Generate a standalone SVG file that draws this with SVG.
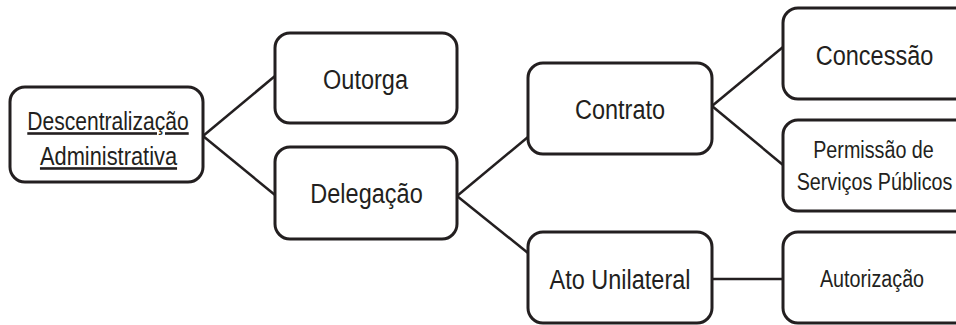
<svg xmlns="http://www.w3.org/2000/svg" width="956" height="325" viewBox="0 0 956 325">
<style>
.box{fill:#fff;stroke:#231f20;stroke-width:3}
.ln{stroke:#231f20;stroke-width:2.5;fill:none}
text{font-family:"Liberation Sans",Arial,sans-serif;fill:#231f20;text-anchor:middle}
.big{font-size:28px}
.mid{font-size:26px}
.sm{font-size:23.5px}
</style>
<rect width="956" height="325" fill="#fff"/>
<g id="connectors">
<line class="ln" x1="203" y1="136" x2="275" y2="76"/>
<line class="ln" x1="203" y1="136" x2="275" y2="195"/>
<line class="ln" x1="457" y1="196" x2="528" y2="137"/>
<line class="ln" x1="457" y1="196" x2="528" y2="253"/>
<line class="ln" x1="712" y1="106" x2="783" y2="47"/>
<line class="ln" x1="712" y1="106" x2="783" y2="165"/>
<line class="ln" x1="712" y1="279" x2="783" y2="279"/>
</g>
<g id="descentralizacao">
<rect class="box" x="10" y="87" width="193" height="95" rx="15"/>
<text class="mid" transform="translate(108,130) scale(0.81,1)" text-decoration="underline">Descentralização</text>
<text class="mid" transform="translate(108.5,165) scale(0.84,1)" text-decoration="underline">Administrativa</text>
</g>
<g id="outorga">
<rect class="box" x="275" y="33" width="182" height="90" rx="15"/>
<text class="big" transform="translate(365.5,89) scale(0.84,1)">Outorga</text>
</g>
<g id="delegacao">
<rect class="box" x="275" y="147" width="182" height="92" rx="15"/>
<text class="big" transform="translate(366.5,203) scale(0.84,1)">Delegação</text>
</g>
<g id="contrato">
<rect class="box" x="528" y="63" width="184" height="91" rx="15"/>
<text class="big" transform="translate(620,119) scale(0.84,1)">Contrato</text>
</g>
<g id="ato-unilateral">
<rect class="box" x="528" y="232" width="184" height="91" rx="15"/>
<text class="big" transform="translate(620,289) scale(0.84,1)">Ato Unilateral</text>
</g>
<g id="concessao">
<rect class="box" x="783" y="8" width="190" height="91" rx="15"/>
<text class="big" transform="translate(874.5,65) scale(0.84,1)">Concessão</text>
</g>
<g id="permissao">
<rect class="box" x="783" y="120" width="190" height="91" rx="15"/>
<text class="sm" transform="translate(873.5,158) scale(0.84,1)">Permissão de</text>
<text class="sm" transform="translate(874.5,190) scale(0.84,1)">Serviços Públicos</text>
</g>
<g id="autorizacao">
<rect class="box" x="783" y="232" width="190" height="91" rx="15"/>
<text class="sm" transform="translate(872,287) scale(0.84,1)">Autorização</text>
</g>
</svg>
